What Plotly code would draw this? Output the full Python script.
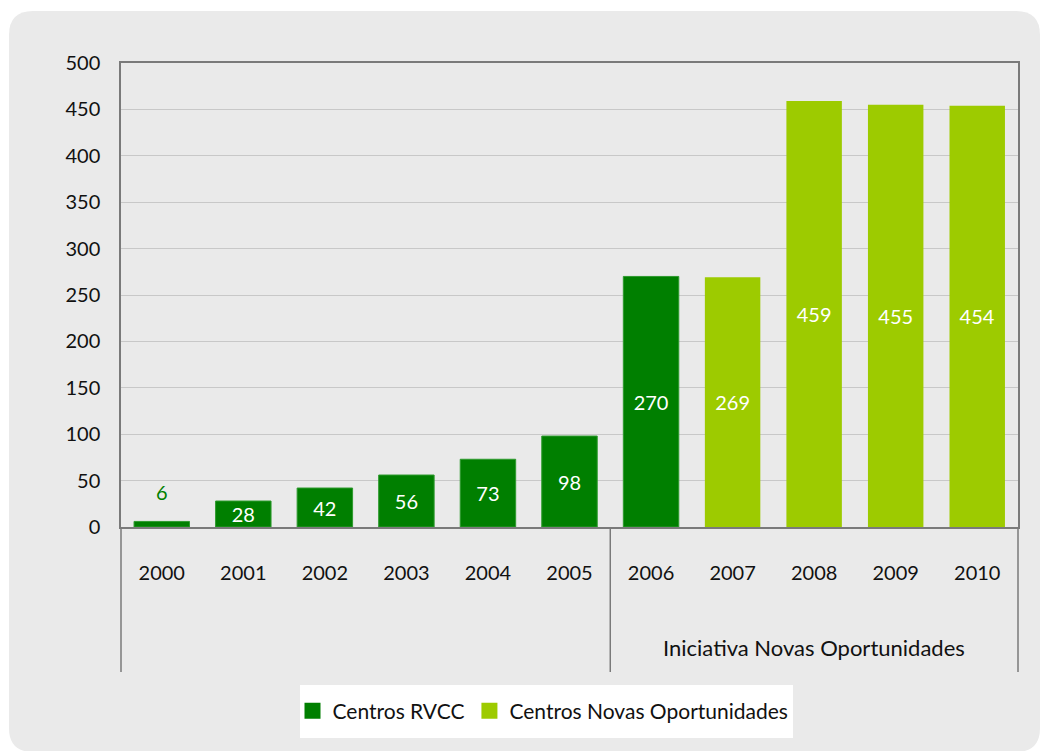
import plotly.graph_objects as go

years = ["2000", "2001", "2002", "2003", "2004", "2005", "2006", "2007", "2008", "2009", "2010"]
rvcc_years = ["2000", "2001", "2002", "2003", "2004", "2005", "2006"]
rvcc_values = [6, 28, 42, 56, 73, 98, 270]
cno_years = ["2007", "2008", "2009", "2010"]
cno_values = [269, 459, 455, 454]
series_names = ["Centros RVCC", "Centros Novas Oportunidades"]
group_label = "Iniciativa Novas Oportunidades"
group_start = "2006"

DARK = "#007F00"
LIGHT = "#9DCB00"
BG = "#EAEAEA"
FONT = "Lato"

W, H = 1041, 751
L, R, T, B = 121, 1018, 63, 527


def px(p):
    return (p - L) / (R - L)


def py(p):
    return (B - p) / (B - T)


def rounded_path(x0, y0, x1, y1, r):
    pts = [
        ("M", [(x0 + r, y0)]),
        ("L", [(x1 - r, y0)]),
        ("Q", [(x1, y0), (x1, y0 + r)]),
        ("L", [(x1, y1 - r)]),
        ("Q", [(x1, y1), (x1 - r, y1)]),
        ("L", [(x0 + r, y1)]),
        ("Q", [(x0, y1), (x0, y1 - r)]),
        ("L", [(x0, y0 + r)]),
        ("Q", [(x0, y0), (x0 + r, y0)]),
    ]
    s = ""
    for cmd, ps in pts:
        s += cmd + " " + " ".join(f"{px(a):.5f},{py(b):.5f}" for a, b in ps) + " "
    return s + "Z"


fig = go.Figure()

rvcc_text = ["" if i == 0 else str(v) for i, v in enumerate(rvcc_values)]
fig.add_trace(go.Bar(
    x=rvcc_years, y=rvcc_values, name=series_names[0], showlegend=False,
    marker=dict(color=DARK, line=dict(color="#2E9A2E", width=1)),
    text=rvcc_text, textposition="inside", insidetextanchor="middle",
    textangle=0, constraintext="none",
    textfont=dict(color="white", size=20, family=FONT),
    width=0.68, opacity=1,
))
fig.add_trace(go.Bar(
    x=cno_years, y=cno_values, name=series_names[1], showlegend=False,
    marker=dict(color=LIGHT, line=dict(width=0)),
    text=[str(v) for v in cno_values], textposition="inside", insidetextanchor="middle",
    textangle=0, constraintext="none",
    textfont=dict(color="white", size=20, family=FONT),
    width=0.68, opacity=1,
))
# legend entries with larger square swatches
for name, col in zip(series_names, [DARK, LIGHT]):
    fig.add_trace(go.Scatter(
        x=[None], y=[None], mode="markers", name=name, showlegend=True,
        marker=dict(symbol="square", size=16, color=col,
                    line=dict(width=0)),
        hoverinfo="skip",
    ))

n = len(years)
g0 = years.index(group_start)
group_center = (g0 + n - 1) / 2.0

annotations = [
    dict(x=years.index(rvcc_years[0]), y=rvcc_values[0], xref="x", yref="y",
         text=str(rvcc_values[0]), showarrow=False, yanchor="bottom",
         yshift=15, font=dict(color=DARK, size=20, family=FONT)),
    dict(x=group_center, y=py(647), xref="x", yref="paper",
         text=group_label, showarrow=False, yanchor="middle", xanchor="center",
         font=dict(color="#111", size=22, family=FONT)),
]

shapes = [
    dict(type="path", xref="paper", yref="paper", layer="below",
         path=rounded_path(9, 11, 1040, 752, 24),
         fillcolor=BG, line=dict(width=0)),
    dict(type="rect", xref="paper", yref="paper", layer="below",
         x0=px(300), x1=px(793), y0=py(685), y1=py(738),
         fillcolor="white", line=dict(width=0)),
]
for xv in [-0.5, g0 - 0.5, n - 0.5]:
    xp = (xv + 0.5) / n
    shapes.append(dict(type="line", xref="paper", yref="paper", layer="above",
                       x0=xp, x1=xp, y0=0, y1=py(672),
                       line=dict(color="#7A7A7A", width=1.5)))

fig.update_layout(
    width=W, height=H,
    margin=dict(l=L, r=W - R, t=T, b=H - B),
    paper_bgcolor="white", plot_bgcolor="white",
    barmode="overlay",
    showlegend=True,
    legend=dict(orientation="h", x=px(543), xanchor="center", y=py(711), yanchor="middle",
                bgcolor="rgba(0,0,0,0)", font=dict(size=21, family=FONT, color="#111"),
                itemwidth=30, traceorder="normal"),
    shapes=shapes,
    annotations=annotations,
    font=dict(family=FONT, size=20, color="#111"),
)
fig.update_xaxes(type="category", categoryorder="array", categoryarray=years,
                 range=[-0.5, n - 0.5],
                 showline=True, linecolor="#7A7A7A", linewidth=1.5, mirror=True,
                 showgrid=False, ticks="", ticklabelstandoff=27,
                 tickfont=dict(size=20, family=FONT, color="#111"))
fig.update_yaxes(range=[0, 500], dtick=50, tick0=0,
                 showline=True, linecolor="#7A7A7A", linewidth=1.5, mirror=True,
                 showgrid=True, gridcolor="#C8C8C8", gridwidth=1,
                 zeroline=False, ticks="", ticklabelstandoff=15,
                 tickfont=dict(size=20, family=FONT, color="#111"))

fig.write_html("out.html")
